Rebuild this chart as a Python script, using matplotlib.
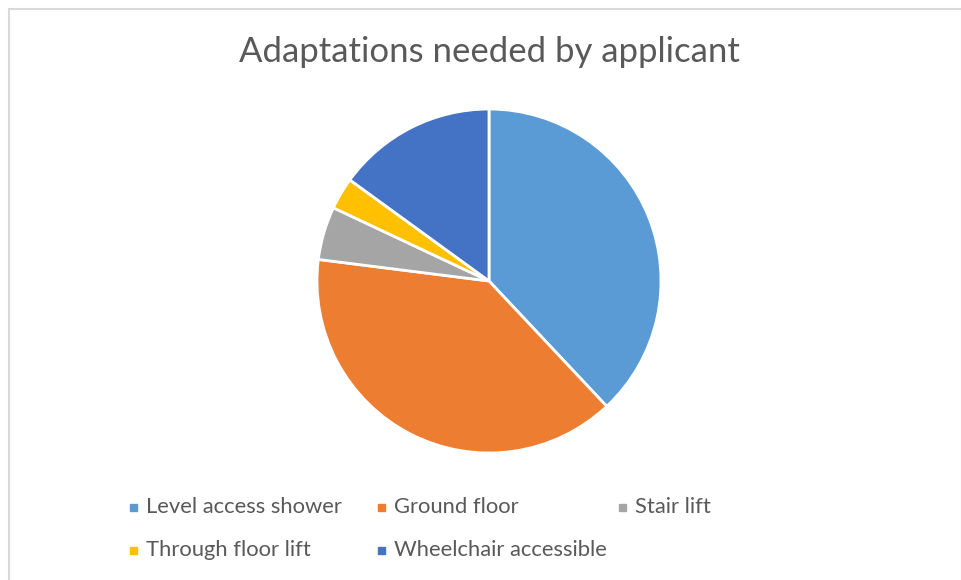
import matplotlib.pyplot as plt
from matplotlib.patches import Rectangle

# Share of applicants needing each adaptation (%)
labels = ['Level access shower', 'Ground floor', 'Stair lift',
          'Through floor lift', 'Wheelchair accessible']
values = [38, 39, 5, 3, 15]
colors = ['#5B9BD5', '#ED7D31', '#A5A5A5', '#FFC000', '#4472C4']

plt.rcParams['font.family'] = ['Lato', 'DejaVu Sans']
text_color = '#595959'

W, H = 961, 580
fig = plt.figure(figsize=(W / 100, H / 100), dpi=100)

# chart frame
fig.patches.append(Rectangle((9 / W, -0.01), (W - 8) / W, 1 - 9.5 / H + 0.01,
                             transform=fig.transFigure, fill=False,
                             edgecolor='#D9D9D9', linewidth=1.5))

fig.text(489 / W, 1 - 52 / H, 'Adaptations needed by applicant',
         ha='center', va='center', fontsize=25, color=text_color)

# pie: center (489, 281) px, radius 172 px
r = 172
cx, cy = 489, 281
ax = fig.add_axes([(cx - r) / W, 1 - (cy + r) / H, 2 * r / W, 2 * r / H])
ax.pie(values, colors=colors, startangle=90, counterclock=False,
       wedgeprops=dict(edgecolor='white', linewidth=2))
ax.set_xlim(-1.0, 1.0)
ax.set_ylim(-1.0, 1.0)
ax.set_aspect('equal')
ax.axis('off')

# legend, two rows
pos = [(133, 507), (381, 507), (622, 507), (133, 550), (381, 550)]
for (x, y), lab, col in zip(pos, labels, colors):
    fig.patches.append(Rectangle(((x - 3) / W, 1 - (y + 4) / H), 7 / W, 7 / H,
                                 transform=fig.transFigure, color=col))
    fig.text((x + 13) / W, 1 - y / H, lab, ha='left', va='center',
             fontsize=15.8, color=text_color)

fig.savefig('out.png', dpi=100, facecolor='white')
